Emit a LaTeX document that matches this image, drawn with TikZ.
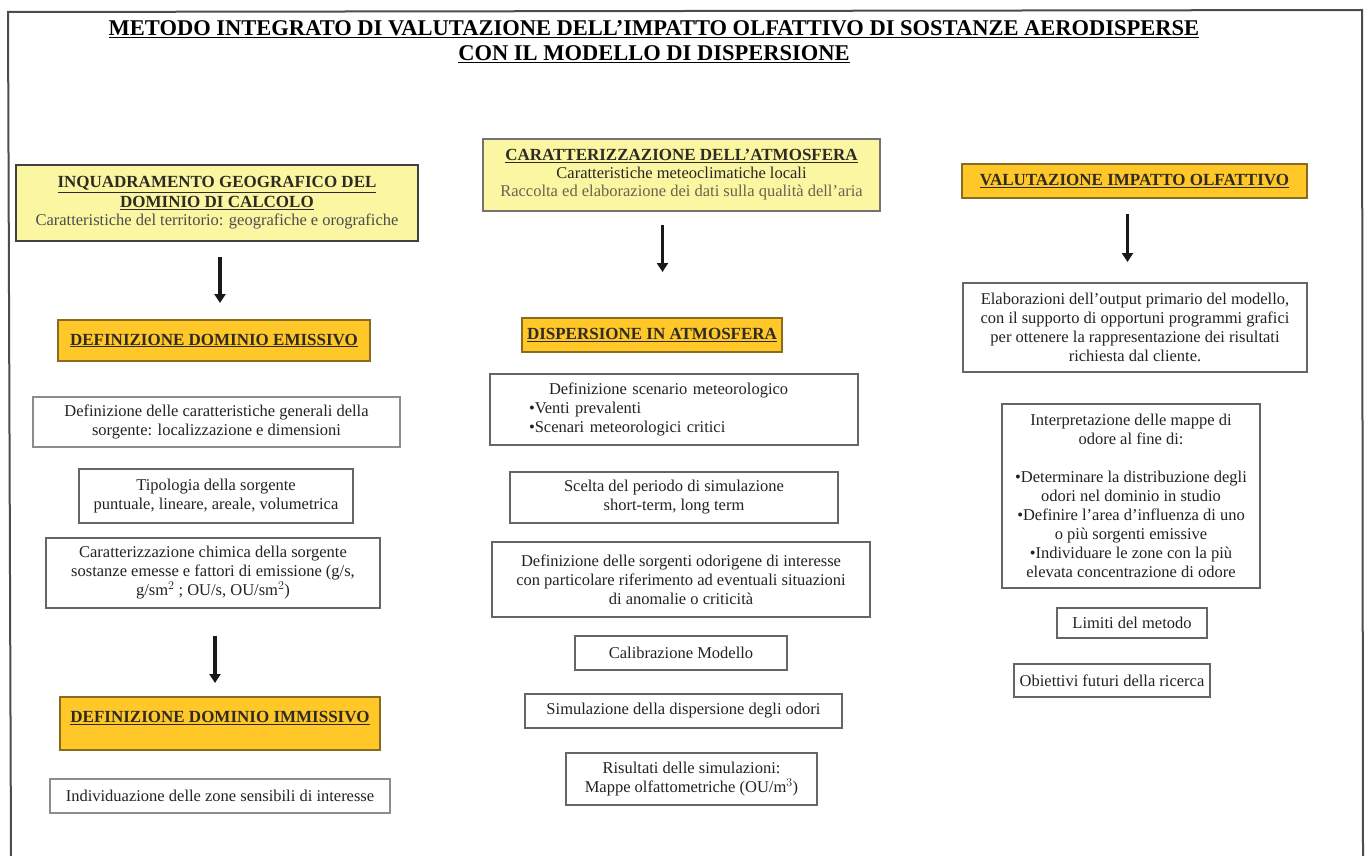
\documentclass[tikz,border=0pt]{standalone}
\usepackage{fontspec}
\setmainfont{Liberation Serif}
\usetikzlibrary{arrows.meta}
\definecolor{lightyel}{HTML}{FAF6A2}
\definecolor{goldfill}{HTML}{FFC828}
\definecolor{goldedge}{HTML}{8A6A20}
\definecolor{hdrtext}{HTML}{2E2A24}
\definecolor{bodytext}{HTML}{222222}
\definecolor{fadetext}{HTML}{6A6250}
\newcommand{\bodyfont}{\fontsize{16.5}{19}\selectfont}
\newcommand{\hdrfont}{\fontsize{17}{19}\selectfont\bfseries}
\tikzset{
  every node/.style={inner sep=0pt, outer sep=0pt},
  hdry/.style={draw=black!75, line width=1.6pt, fill=lightyel, align=center, text=hdrtext, font=\hdrfont},
  hdrg/.style={draw=goldedge, line width=1.6pt, fill=goldfill, align=center, text=hdrtext, font=\hdrfont},
  wbox/.style={draw=black!60, line width=1.3pt, fill=white, align=center, text=bodytext, font=\bodyfont},
  arr/.style={line width=3.4pt, black!90, -{Triangle[width=11pt,length=9pt]}},
  frame/.style={line width=2pt, black!70}
}
\begin{document}
\begin{tikzpicture}[x=1pt,y=-1pt]
\useasboundingbox (0,0) rectangle (1371,856);
\fill[white] (0,0) rectangle (1371,856);
% frame
\coordinate (fbl) at (11,856);
\coordinate (ftl) at (8,12);
\coordinate (ftr) at (1362,10);
\coordinate (fbr) at (1363,856);
\draw[frame] (fbl) -- (ftl) -- (ftr) -- (fbr);
% title
\node[align=center, font=\fontsize{22.5}{25}\selectfont\bfseries, text=black] (title) at (654,42)
  {\underline{METODO INTEGRATO DI VALUTAZIONE DELL'IMPATTO OLFATTIVO DI SOSTANZE AERODISPERSE}\\
   \underline{CON IL MODELLO DI DISPERSIONE}};
% left column
\node[hdry, minimum width=402, minimum height=76] (A) at (217,203)
  {\underline{INQUADRAMENTO GEOGRAFICO DEL}\\[1pt]\underline{DOMINIO DI CALCOLO}\\[-1pt]
   {\bodyfont\mdseries\color{black!70}Caratteristiche del territorio: geografiche e orografiche}};
\node[hdrg, minimum width=312, minimum height=41] (B) at (214,340.5)
  {\underline{DEFINIZIONE DOMINIO EMISSIVO}};
\node[wbox, draw=black!45, minimum width=367, minimum height=50] (C) at (216.5,422)
  {Definizione delle caratteristiche generali della\\sorgente: localizzazione e dimensioni};
\node[wbox, minimum width=274, minimum height=54] (D) at (216,496)
  {Tipologia della sorgente\\puntuale, lineare, areale, volumetrica};
\node[wbox, minimum width=334, minimum height=70] (E) at (213,573)
  {Caratterizzazione chimica della sorgente\\sostanze emesse e fattori di emissione (g/s,\\g/sm$^{2}$ ; OU/s, OU/sm$^{2}$)};
\node[hdrg, minimum width=320, minimum height=53] (F) at (220,723.5)
  {\underline{DEFINIZIONE DOMINIO IMMISSIVO}\\[-6pt]\mbox{}};
\node[wbox, draw=black!45, minimum width=340, minimum height=34] (G) at (220,796)
  {Individuazione delle zone sensibili di interesse};
% middle column
\node[hdry, line width=1.3pt, draw=black!55, minimum width=397, minimum height=72] (H) at (681.5,175)
  {\underline{CARATTERIZZAZIONE DELL'ATMOSFERA}\\[-1pt]
   {\bodyfont\mdseries\color{black!85}Caratteristiche meteoclimatiche locali}\\[-1pt]
   {\bodyfont\mdseries\color{fadetext}Raccolta ed elaborazione dei dati sulla qualit\`a dell'aria}};
\node[hdrg, minimum width=260, minimum height=34] (I) at (652,335)
  {\underline{DISPERSIONE IN ATMOSFERA}};
\node[wbox, minimum width=368, minimum height=71, align=left, text width=290, inner xsep=39pt] (J) at (674,409.5)
  {\hspace*{20pt}Definizione scenario meteorologico\\
   \textbullet Venti prevalenti\\
   \textbullet Scenari meteorologici critici};
\node[wbox, minimum width=328, minimum height=51] (K) at (674,497.5)
  {Scelta del periodo di simulazione\\short-term, long term};
\node[wbox, minimum width=378, minimum height=75] (L) at (681,579.5)
  {Definizione delle sorgenti odorigene di interesse\\con particolare riferimento ad eventuali situazioni\\di anomalie o criticit\`a};
\node[wbox, minimum width=212, minimum height=34] (M) at (681,653)
  {Calibrazione Modello};
\node[wbox, minimum width=317, minimum height=34] (N) at (683.5,711)
  {Simulazione della dispersione degli odori};
\node[wbox, minimum width=251, minimum height=52] (O) at (691.5,779)
  {Risultati delle simulazioni:\\Mappe olfattometriche (OU/m$^{3}$)};
% right column
\node[hdrg, minimum width=345, minimum height=34] (P) at (1134.5,181)
  {\underline{VALUTAZIONE IMPATTO OLFATTIVO}};
\node[wbox, minimum width=344, minimum height=89] (Q) at (1135,327.5)
  {Elaborazioni dell'output primario del modello,\\con il supporto di opportuni programmi grafici\\per ottenere la rappresentazione dei risultati\\richiesta dal cliente.};
\node[wbox, minimum width=258, minimum height=184] (R) at (1131,496)
  {Interpretazione delle mappe di\\odore al fine di:\\[19pt]
   \textbullet Determinare la distribuzione degli\\odori nel dominio in studio\\
   \textbullet Definire l'area d'influenza di uno\\o pi\`u sorgenti emissive\\
   \textbullet Individuare le zone con la pi\`u\\elevata concentrazione di odore};
\node[wbox, minimum width=150, minimum height=30] (S) at (1132,623)
  {Limiti del metodo};
\node[wbox, minimum width=196, minimum height=33] (T) at (1112,680.5)
  {Obiettivi futuri della ricerca};
% arrows
\draw[arr, shorten <=16pt, shorten >=17pt] ([xshift=3pt]A.south) -- ([xshift=3pt]A.south |- B.north);
\draw[arr, shorten <=28pt, shorten >=14pt] ([xshift=2pt]E.south) -- ([xshift=2pt]E.south |- F.north);
\draw[arr, shorten <=14pt, shorten >=46pt] ([xshift=-19pt]H.south) -- ([xshift=-19pt]H.south |- I.north);
\draw[arr, shorten <=16pt, shorten >=21pt] ([xshift=-7pt]P.south) -- ([xshift=-7pt]P.south |- Q.north);
\end{tikzpicture}
\end{document}
